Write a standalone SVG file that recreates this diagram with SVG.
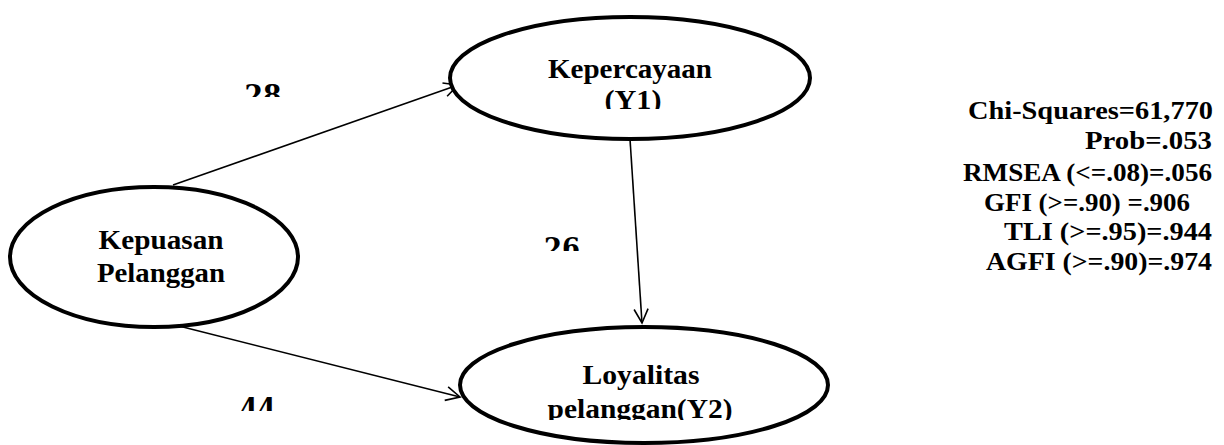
<svg xmlns="http://www.w3.org/2000/svg" width="1224" height="445" viewBox="0 0 1224 445">
  <style>
    .node { fill: #ffffff; stroke: #000000; stroke-width: 4; }
    .lbl { font-family: "Liberation Serif", "Times New Roman", serif; font-weight: bold; font-size: 28px; fill: #000000; text-anchor: middle; }
    .num { font-family: "DejaVu Serif", "Liberation Serif", serif; font-weight: bold; font-size: 28px; fill: #000000; text-anchor: middle; }
    .fit { font-family: "Liberation Serif", "Times New Roman", serif; font-weight: bold; font-size: 25px; fill: #000000; text-anchor: end; }
    .conn { fill: none; stroke: #000000; stroke-width: 1.6; }
  </style>
  <defs>
    <marker id="arrow" markerUnits="userSpaceOnUse" markerWidth="20" markerHeight="20" refX="15" refY="8" orient="auto" viewBox="0 0 20 16">
      <path d="M1,1 L15,8 L1,15" fill="none" stroke="#000000" stroke-width="1.6"/>
    </marker>
    <clipPath id="clipY1"><rect x="0" y="0" width="1224" height="109"/></clipPath>
    <clipPath id="clipY2"><rect x="0" y="0" width="1224" height="420"/></clipPath>
    <clipPath id="clip28"><rect x="0" y="0" width="1224" height="97"/></clipPath>
    <clipPath id="clip26"><rect x="0" y="0" width="1224" height="251"/></clipPath>
    <clipPath id="clip44"><rect x="0" y="0" width="1224" height="411"/></clipPath>
  </defs>
  <rect width="1224" height="445" fill="#ffffff"/>

  <g id="connectors">
    <line class="conn" x1="173" y1="185" x2="458" y2="85" marker-end="url(#arrow)"/>
    <line class="conn" x1="630" y1="139" x2="642" y2="323" marker-end="url(#arrow)"/>
    <line class="conn" x1="175" y1="325" x2="460" y2="397" marker-end="url(#arrow)"/>
  </g>

  <g id="node-kepuasan">
    <ellipse class="node" cx="154" cy="257" rx="144" ry="70"/>
    <text class="lbl" x="161" y="249" textLength="125" lengthAdjust="spacingAndGlyphs">Kepuasan</text>
    <text class="lbl" x="161" y="282" textLength="128" lengthAdjust="spacingAndGlyphs">Pelanggan</text>
  </g>

  <g id="node-kepercayaan">
    <ellipse class="node" cx="630" cy="78" rx="180" ry="61"/>
    <text class="lbl" x="630" y="78" textLength="164" lengthAdjust="spacingAndGlyphs">Kepercayaan</text>
    <text class="lbl" x="633" y="109" textLength="57" lengthAdjust="spacingAndGlyphs" clip-path="url(#clipY1)">(Y1)</text>
  </g>

  <g id="node-loyalitas">
    <ellipse class="node" cx="644" cy="385" rx="184" ry="58"/>
    <text class="lbl" x="641" y="384" textLength="117" lengthAdjust="spacingAndGlyphs">Loyalitas</text>
    <text class="lbl" x="640" y="418" textLength="185" lengthAdjust="spacingAndGlyphs" clip-path="url(#clipY2)">pelanggan(Y2)</text>
  </g>

  <g id="path-labels">
    <text class="num" x="263" y="105" textLength="37" lengthAdjust="spacingAndGlyphs" clip-path="url(#clip28)">28</text>
    <text class="num" x="562" y="258" textLength="36" lengthAdjust="spacingAndGlyphs" clip-path="url(#clip26)">26</text>
    <text class="num" x="258" y="418" textLength="36" lengthAdjust="spacingAndGlyphs" clip-path="url(#clip44)">44</text>
  </g>

  <g id="fit-indices">
    <text class="fit" x="1213" y="119" textLength="245" lengthAdjust="spacingAndGlyphs">Chi-Squares=61,770</text>
    <text class="fit" x="1212" y="149" textLength="127" lengthAdjust="spacingAndGlyphs">Prob=.053</text>
    <text class="fit" x="1212" y="181" textLength="249" lengthAdjust="spacingAndGlyphs">RMSEA (&lt;=.08)=.056</text>
    <text class="fit" x="1190" y="211" textLength="206" lengthAdjust="spacingAndGlyphs">GFI (&gt;=.90) =.906</text>
    <text class="fit" x="1212" y="240" textLength="208" lengthAdjust="spacingAndGlyphs">TLI (&gt;=.95)=.944</text>
    <text class="fit" x="1212" y="270" textLength="226" lengthAdjust="spacingAndGlyphs">AGFI (&gt;=.90)=.974</text>
  </g>
</svg>
